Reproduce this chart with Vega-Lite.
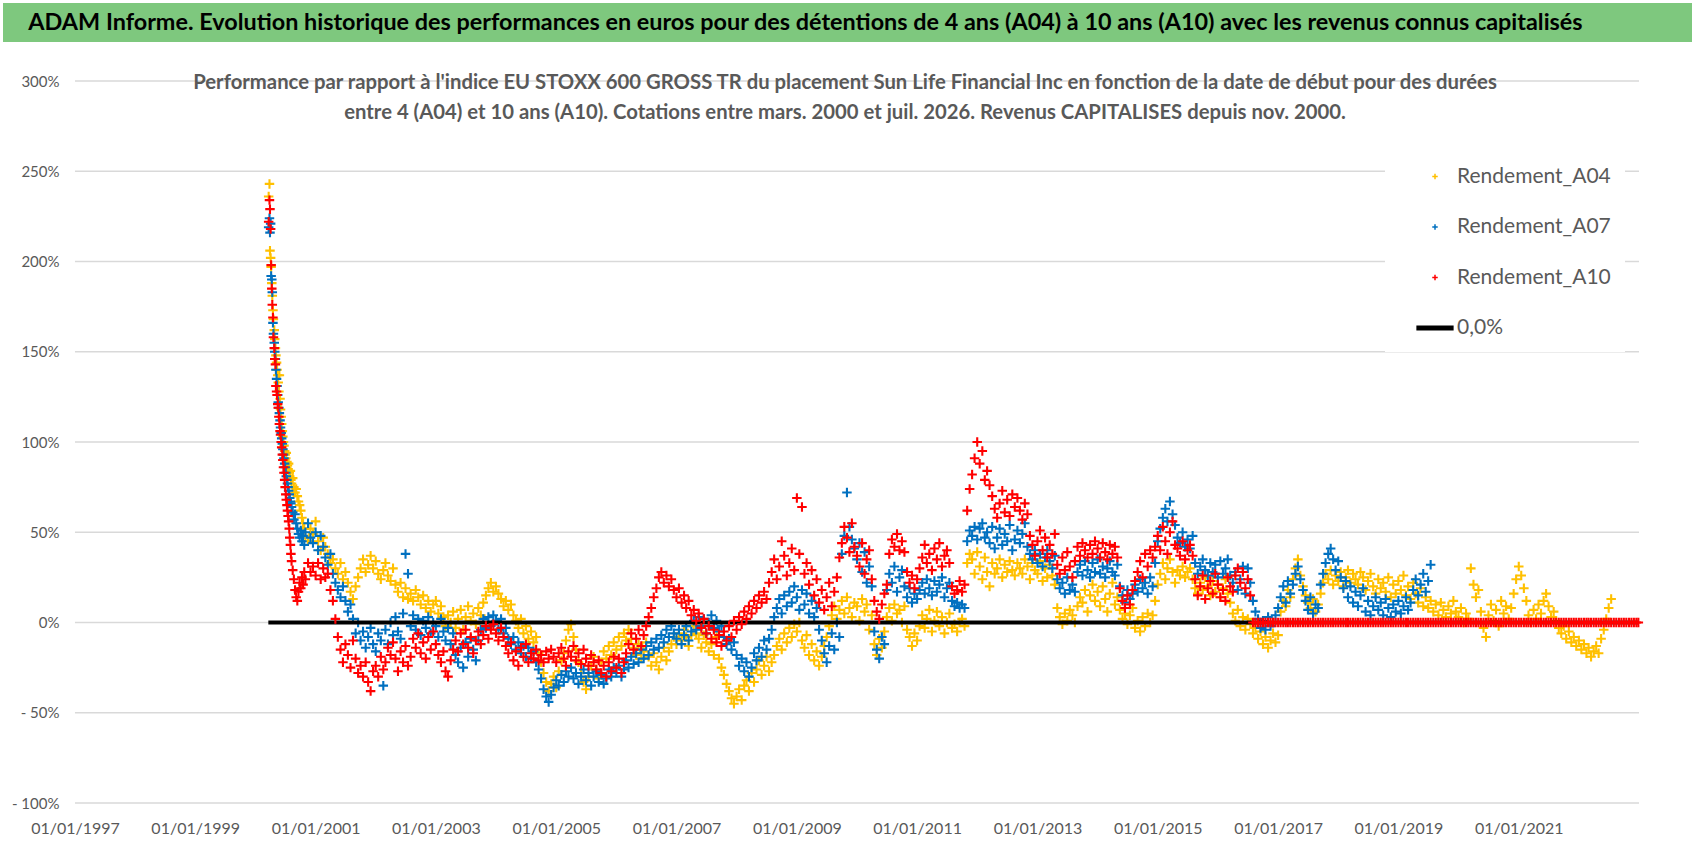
{
  "$schema": "https://vega.github.io/schema/vega-lite/v6.json",
  "background": "white",
  "padding": {"left": 3, "top": 3, "right": 6, "bottom": 0},
  "spacing": 30,
  "config": {
    "font": "Lato",
    "view": {"stroke": null}
  },
  "datasets": {
    "perf": [
      {"t":"2000-03-22","A04":236,"A07":219,"A10":222},
      {"t":"2000-03-27","A04":243,"A07":224,"A10":234},
      {"t":"2000-03-30","A04":206,"A07":216,"A10":229},
      {"t":"2000-04-03","A04":202,"A07":221,"A10":218},
      {"t":"2000-04-06","A04":197,"A07":192,"A10":198},
      {"t":"2000-04-10","A04":188,"A07":190,"A10":185},
      {"t":"2000-04-13","A04":181,"A07":183,"A10":176},
      {"t":"2000-04-17","A04":173,"A07":166,"A10":169},
      {"t":"2000-04-20","A04":168,"A07":160,"A10":158},
      {"t":"2000-04-25","A04":162,"A07":155,"A10":152},
      {"t":"2000-04-28","A04":157,"A07":150,"A10":146},
      {"t":"2000-05-02","A04":152,"A07":146,"A10":143},
      {"t":"2000-05-05","A04":148,"A07":140,"A10":131},
      {"t":"2000-05-09","A04":144,"A07":135,"A10":128},
      {"t":"2000-05-12","A04":140,"A07":131,"A10":126},
      {"t":"2000-05-16","A04":137,"A07":126,"A10":121},
      {"t":"2000-05-19","A04":133,"A07":122,"A10":119},
      {"t":"2000-05-23","A04":128,"A07":119,"A10":114},
      {"t":"2000-05-26","A04":137,"A07":116,"A10":110},
      {"t":"2000-05-30","A04":124,"A07":112,"A10":106},
      {"t":"2000-06-02","A04":118,"A07":108,"A10":104},
      {"t":"2000-06-06","A04":114,"A07":105,"A10":100},
      {"t":"2000-06-09","A04":110,"A07":102,"A10":97},
      {"t":"2000-06-13","A04":106,"A07":99,"A10":93},
      {"t":"2000-06-16","A04":103,"A07":96,"A10":90},
      {"t":"2000-06-20","A04":100,"A07":93,"A10":86},
      {"t":"2000-06-23","A04":98,"A07":91,"A10":83},
      {"t":"2000-06-27","A04":95,"A07":88,"A10":79},
      {"t":"2000-06-30","A04":93,"A07":86,"A10":75},
      {"t":"2000-07-04","A04":91,"A07":83,"A10":71},
      {"t":"2000-07-07","A04":94,"A07":81,"A10":68},
      {"t":"2000-07-11","A04":89,"A07":79,"A10":65},
      {"t":"2000-07-14","A04":87,"A07":77,"A10":62},
      {"t":"2000-07-18","A04":85,"A07":75,"A10":59},
      {"t":"2000-07-21","A04":88,"A07":73,"A10":56},
      {"t":"2000-07-25","A04":83,"A07":71,"A10":52},
      {"t":"2000-07-28","A04":81,"A07":69,"A10":47},
      {"t":"2000-08-01","A04":84,"A07":67,"A10":43},
      {"t":"2000-08-04","A04":79,"A07":66,"A10":38},
      {"t":"2000-08-08","A04":77,"A07":64,"A10":34},
      {"t":"2000-08-15","A04":80,"A07":61,"A10":29},
      {"t":"2000-08-22","A04":75,"A07":57,"A10":24},
      {"t":"2000-08-29","A04":72,"A07":60,"A10":18},
      {"t":"2000-09-05","A04":74,"A07":55,"A10":14},
      {"t":"2000-09-12","A04":70,"A07":52,"A10":12},
      {"t":"2000-09-19","A04":67,"A07":49,"A10":17},
      {"t":"2000-09-26","A04":65,"A07":47,"A10":22},
      {"t":"2000-10-03","A04":62,"A07":51,"A10":19},
      {"t":"2000-10-10","A04":58,"A07":45,"A10":25},
      {"t":"2000-10-17","A04":55,"A07":48,"A10":21},
      {"t":"2000-10-24","A04":52,"A07":43,"A10":28},
      {"t":"2000-10-31","A04":48,"A07":50,"A10":24},
      {"t":"2000-11-16","A04":45,"A07":55,"A10":33},
      {"t":"2000-12-01","A04":52,"A07":47,"A10":28},
      {"t":"2000-12-16","A04":49,"A07":44,"A10":31},
      {"t":"2001-01-01","A04":56,"A07":50,"A10":26},
      {"t":"2001-01-16","A04":45,"A07":40,"A10":33},
      {"t":"2001-02-01","A04":40,"A07":48,"A10":24},
      {"t":"2001-02-16","A04":47,"A07":42,"A10":30},
      {"t":"2001-03-01","A04":42,"A07":36,"A10":25},
      {"t":"2001-03-16","A04":38,"A07":32,"A10":27},
      {"t":"2001-04-01","A04":33,"A07":38,"A10":18},
      {"t":"2001-04-16","A04":35,"A07":27,"A10":12},
      {"t":"2001-05-01","A04":30,"A07":22,"A10":2},
      {"t":"2001-05-16","A04":27,"A07":18,"A10":-8},
      {"t":"2001-06-01","A04":33,"A07":14,"A10":-15},
      {"t":"2001-06-16","A04":24,"A07":20,"A10":-22},
      {"t":"2001-07-01","A04":28,"A07":12,"A10":-12},
      {"t":"2001-07-16","A04":22,"A07":6,"A10":-18},
      {"t":"2001-08-01","A04":17,"A07":10,"A10":-25},
      {"t":"2001-08-16","A04":13,"A07":2,"A10":-10},
      {"t":"2001-09-01","A04":20,"A07":-6,"A10":-20},
      {"t":"2001-09-16","A04":25,"A07":0,"A10":-28},
      {"t":"2001-10-01","A04":30,"A07":-10,"A10":-24},
      {"t":"2001-10-16","A04":35,"A07":-5,"A10":-30},
      {"t":"2001-11-01","A04":28,"A07":-14,"A10":-22},
      {"t":"2001-11-16","A04":32,"A07":-8,"A10":-33},
      {"t":"2001-12-01","A04":37,"A07":-3,"A10":-38},
      {"t":"2001-12-16","A04":30,"A07":-12,"A10":-27},
      {"t":"2002-01-01","A04":34,"A07":-16,"A10":-24},
      {"t":"2002-01-16","A04":27,"A07":-6,"A10":-30},
      {"t":"2002-02-01","A04":24,"A07":-10,"A10":-19},
      {"t":"2002-02-16","A04":29,"A07":-35,"A10":-26},
      {"t":"2002-03-01","A04":33,"A07":-4,"A10":-22},
      {"t":"2002-03-16","A04":26,"A07":-12,"A10":-14},
      {"t":"2002-04-01","A04":23,"A07":0,"A10":-18},
      {"t":"2002-04-16","A04":30,"A07":-7,"A10":-11},
      {"t":"2002-05-01","A04":21,"A07":3,"A10":-20},
      {"t":"2002-05-16","A04":17,"A07":-5,"A10":-27},
      {"t":"2002-06-01","A04":22,"A07":-9,"A10":-16},
      {"t":"2002-06-16","A04":14,"A07":5,"A10":-22},
      {"t":"2002-07-01","A04":19,"A07":38,"A10":-13},
      {"t":"2002-07-16","A04":13,"A07":27,"A10":-24},
      {"t":"2002-08-01","A04":16,"A07":-2,"A10":-19},
      {"t":"2002-08-16","A04":12,"A07":4,"A10":-9},
      {"t":"2002-09-01","A04":18,"A07":-4,"A10":-14},
      {"t":"2002-09-16","A04":14,"A07":2,"A10":-6},
      {"t":"2002-10-01","A04":10,"A07":-7,"A10":-17},
      {"t":"2002-10-16","A04":15,"A07":1,"A10":-11},
      {"t":"2002-11-01","A04":8,"A07":-3,"A10":-20},
      {"t":"2002-11-16","A04":12,"A07":3,"A10":-8},
      {"t":"2002-12-01","A04":6,"A07":-6,"A10":-15},
      {"t":"2002-12-16","A04":10,"A07":0,"A10":-5},
      {"t":"2003-01-01","A04":12,"A07":-2,"A10":-12},
      {"t":"2003-01-16","A04":5,"A07":-8,"A10":-18},
      {"t":"2003-02-01","A04":9,"A07":2,"A10":-22},
      {"t":"2003-02-16","A04":3,"A07":-5,"A10":-16},
      {"t":"2003-03-01","A04":-2,"A07":-10,"A10":-27},
      {"t":"2003-03-16","A04":4,"A07":-3,"A10":-30},
      {"t":"2003-04-01","A04":0,"A07":-12,"A10":-21},
      {"t":"2003-04-16","A04":6,"A07":-6,"A10":-15},
      {"t":"2003-05-01","A04":-3,"A07":-18,"A10":-10},
      {"t":"2003-05-16","A04":2,"A07":-22,"A10":-16},
      {"t":"2003-06-01","A04":7,"A07":-14,"A10":-6},
      {"t":"2003-06-16","A04":-4,"A07":-25,"A10":-12},
      {"t":"2003-07-01","A04":3,"A07":-11,"A10":-4},
      {"t":"2003-07-16","A04":9,"A07":-19,"A10":-14},
      {"t":"2003-08-01","A04":1,"A07":-9,"A10":-8},
      {"t":"2003-08-16","A04":5,"A07":-15,"A10":-17},
      {"t":"2003-09-01","A04":-1,"A07":-21,"A10":-10},
      {"t":"2003-09-16","A04":8,"A07":-10,"A10":-5},
      {"t":"2003-10-01","A04":4,"A07":-4,"A10":-12},
      {"t":"2003-10-16","A04":11,"A07":2,"A10":-7},
      {"t":"2003-11-01","A04":15,"A07":-3,"A10":-2},
      {"t":"2003-11-16","A04":19,"A07":3,"A10":-9},
      {"t":"2003-12-01","A04":22,"A07":-2,"A10":-4},
      {"t":"2003-12-16","A04":17,"A07":4,"A10":-1},
      {"t":"2004-01-01","A04":20,"A07":1,"A10":-6},
      {"t":"2004-01-16","A04":16,"A07":-4,"A10":-10},
      {"t":"2004-02-01","A04":13,"A07":2,"A10":-3},
      {"t":"2004-02-16","A04":9,"A07":-6,"A10":-8},
      {"t":"2004-03-01","A04":12,"A07":-3,"A10":-13},
      {"t":"2004-03-16","A04":7,"A07":-9,"A10":-17},
      {"t":"2004-04-01","A04":10,"A07":-12,"A10":-11},
      {"t":"2004-04-16","A04":4,"A07":-8,"A10":-21},
      {"t":"2004-05-01","A04":1,"A07":-15,"A10":-16},
      {"t":"2004-05-16","A04":-3,"A07":-11,"A10":-24},
      {"t":"2004-06-01","A04":2,"A07":-17,"A10":-14},
      {"t":"2004-06-16","A04":-6,"A07":-13,"A10":-19},
      {"t":"2004-07-01","A04":-2,"A07":-19,"A10":-12},
      {"t":"2004-07-16","A04":-9,"A07":-14,"A10":-22},
      {"t":"2004-08-01","A04":-5,"A07":-20,"A10":-17},
      {"t":"2004-08-16","A04":-11,"A07":-16,"A10":-20},
      {"t":"2004-09-01","A04":-8,"A07":-22,"A10":-15},
      {"t":"2004-09-16","A04":-17,"A07":-26,"A10":-21},
      {"t":"2004-10-01","A04":-22,"A07":-31,"A10":-18},
      {"t":"2004-10-16","A04":-28,"A07":-37,"A10":-22},
      {"t":"2004-11-01","A04":-33,"A07":-41,"A10":-16},
      {"t":"2004-11-16","A04":-38,"A07":-44,"A10":-20},
      {"t":"2004-12-01","A04":-34,"A07":-40,"A10":-15},
      {"t":"2004-12-16","A04":-30,"A07":-36,"A10":-19},
      {"t":"2005-01-01","A04":-36,"A07":-32,"A10":-22},
      {"t":"2005-01-16","A04":-27,"A07":-35,"A10":-17},
      {"t":"2005-02-01","A04":-21,"A07":-29,"A10":-14},
      {"t":"2005-02-16","A04":-17,"A07":-33,"A10":-20},
      {"t":"2005-03-01","A04":-10,"A07":-27,"A10":-24},
      {"t":"2005-03-16","A04":-4,"A07":-30,"A10":-16},
      {"t":"2005-04-01","A04":-1,"A07":-25,"A10":-19},
      {"t":"2005-04-16","A04":-8,"A07":-31,"A10":-13},
      {"t":"2005-05-01","A04":-15,"A07":-28,"A10":-21},
      {"t":"2005-05-16","A04":-22,"A07":-34,"A10":-17},
      {"t":"2005-06-01","A04":-28,"A07":-30,"A10":-23},
      {"t":"2005-06-16","A04":-33,"A07":-26,"A10":-15},
      {"t":"2005-07-01","A04":-37,"A07":-32,"A10":-20},
      {"t":"2005-07-16","A04":-30,"A07":-28,"A10":-24},
      {"t":"2005-08-01","A04":-24,"A07":-35,"A10":-18},
      {"t":"2005-08-16","A04":-19,"A07":-30,"A10":-22},
      {"t":"2005-09-01","A04":-26,"A07":-27,"A10":-26},
      {"t":"2005-09-16","A04":-31,"A07":-33,"A10":-21},
      {"t":"2005-10-01","A04":-22,"A07":-29,"A10":-28},
      {"t":"2005-10-16","A04":-16,"A07":-34,"A10":-24},
      {"t":"2005-11-01","A04":-20,"A07":-31,"A10":-30},
      {"t":"2005-11-16","A04":-13,"A07":-26,"A10":-22},
      {"t":"2005-12-01","A04":-18,"A07":-30,"A10":-27},
      {"t":"2005-12-16","A04":-11,"A07":-25,"A10":-19},
      {"t":"2006-01-01","A04":-15,"A07":-28,"A10":-25},
      {"t":"2006-01-16","A04":-8,"A07":-24,"A10":-20},
      {"t":"2006-02-01","A04":-13,"A07":-30,"A10":-28},
      {"t":"2006-02-16","A04":-6,"A07":-26,"A10":-22},
      {"t":"2006-03-01","A04":-10,"A07":-21,"A10":-17},
      {"t":"2006-03-16","A04":-4,"A07":-25,"A10":-12},
      {"t":"2006-04-01","A04":-9,"A07":-19,"A10":-6},
      {"t":"2006-04-16","A04":-14,"A07":-23,"A10":-15},
      {"t":"2006-05-01","A04":-18,"A07":-17,"A10":-9},
      {"t":"2006-05-16","A04":-12,"A07":-22,"A10":-4},
      {"t":"2006-06-01","A04":-20,"A07":-15,"A10":-13},
      {"t":"2006-06-16","A04":-16,"A07":-20,"A10":-7},
      {"t":"2006-07-01","A04":-11,"A07":-13,"A10":-2},
      {"t":"2006-07-16","A04":-19,"A07":-18,"A10":3},
      {"t":"2006-08-01","A04":-24,"A07":-11,"A10":8},
      {"t":"2006-08-16","A04":-17,"A07":-15,"A10":14},
      {"t":"2006-09-01","A04":-22,"A07":-9,"A10":19},
      {"t":"2006-09-16","A04":-26,"A07":-14,"A10":25},
      {"t":"2006-10-01","A04":-19,"A07":-7,"A10":28},
      {"t":"2006-10-16","A04":-14,"A07":-11,"A10":22},
      {"t":"2006-11-01","A04":-21,"A07":-4,"A10":26},
      {"t":"2006-11-16","A04":-16,"A07":-8,"A10":20},
      {"t":"2006-12-01","A04":-12,"A07":-2,"A10":24},
      {"t":"2006-12-16","A04":-8,"A07":-6,"A10":18},
      {"t":"2007-01-01","A04":-12,"A07":-9,"A10":14},
      {"t":"2007-01-16","A04":-6,"A07":-4,"A10":19},
      {"t":"2007-02-01","A04":-10,"A07":-12,"A10":11},
      {"t":"2007-02-16","A04":-4,"A07":-7,"A10":15},
      {"t":"2007-03-01","A04":-8,"A07":-2,"A10":8},
      {"t":"2007-03-16","A04":-13,"A07":-10,"A10":12},
      {"t":"2007-04-01","A04":-7,"A07":-5,"A10":4},
      {"t":"2007-04-16","A04":-2,"A07":1,"A10":7},
      {"t":"2007-05-01","A04":-6,"A07":-4,"A10":1},
      {"t":"2007-05-16","A04":-9,"A07":3,"A10":5},
      {"t":"2007-06-01","A04":-14,"A07":-2,"A10":-3},
      {"t":"2007-06-16","A04":-7,"A07":2,"A10":2},
      {"t":"2007-07-01","A04":-11,"A07":-6,"A10":-6},
      {"t":"2007-07-16","A04":-16,"A07":0,"A10":-2},
      {"t":"2007-08-01","A04":-12,"A07":4,"A10":-9},
      {"t":"2007-08-16","A04":-18,"A07":-3,"A10":-4},
      {"t":"2007-09-01","A04":-8,"A07":1,"A10":-11},
      {"t":"2007-09-16","A04":-20,"A07":-5,"A10":-7},
      {"t":"2007-10-01","A04":-25,"A07":-2,"A10":-13},
      {"t":"2007-10-16","A04":-29,"A07":-8,"A10":-5},
      {"t":"2007-11-01","A04":-34,"A07":-12,"A10":-10},
      {"t":"2007-11-16","A04":-38,"A07":-9,"A10":-2},
      {"t":"2007-12-01","A04":-42,"A07":-15,"A10":-8},
      {"t":"2007-12-16","A04":-45,"A07":-11,"A10":1},
      {"t":"2008-01-01","A04":-41,"A07":-18,"A10":-4},
      {"t":"2008-01-16","A04":-37,"A07":-24,"A10":3},
      {"t":"2008-02-01","A04":-43,"A07":-20,"A10":-1},
      {"t":"2008-02-16","A04":-35,"A07":-27,"A10":6},
      {"t":"2008-03-01","A04":-32,"A07":-22,"A10":2},
      {"t":"2008-03-16","A04":-38,"A07":-30,"A10":9},
      {"t":"2008-04-01","A04":-28,"A07":-25,"A10":5},
      {"t":"2008-04-16","A04":-33,"A07":-17,"A10":12},
      {"t":"2008-05-01","A04":-26,"A07":-21,"A10":8},
      {"t":"2008-05-16","A04":-21,"A07":-14,"A10":15},
      {"t":"2008-06-01","A04":-29,"A07":-19,"A10":11},
      {"t":"2008-06-16","A04":-24,"A07":-10,"A10":17},
      {"t":"2008-07-01","A04":-19,"A07":-15,"A10":13},
      {"t":"2008-07-16","A04":-27,"A07":-9,"A10":22},
      {"t":"2008-08-01","A04":-22,"A07":-4,"A10":28},
      {"t":"2008-08-16","A04":-18,"A07":3,"A10":35},
      {"t":"2008-09-01","A04":-13,"A07":8,"A10":24},
      {"t":"2008-09-16","A04":-9,"A07":13,"A10":31},
      {"t":"2008-10-01","A04":-15,"A07":5,"A10":45},
      {"t":"2008-10-16","A04":-6,"A07":15,"A10":37},
      {"t":"2008-11-01","A04":-11,"A07":9,"A10":26},
      {"t":"2008-11-16","A04":-3,"A07":17,"A10":33},
      {"t":"2008-12-01","A04":-8,"A07":11,"A10":41},
      {"t":"2008-12-16","A04":-1,"A07":20,"A10":29},
      {"t":"2009-01-01","A04":-5,"A07":14,"A10":69},
      {"t":"2009-01-16","A04":0,"A07":7,"A10":38},
      {"t":"2009-02-01","A04":-10,"A07":18,"A10":64},
      {"t":"2009-02-16","A04":-14,"A07":10,"A10":27},
      {"t":"2009-03-01","A04":-7,"A07":16,"A10":33},
      {"t":"2009-03-16","A04":-18,"A07":5,"A10":21},
      {"t":"2009-04-01","A04":-12,"A07":12,"A10":29},
      {"t":"2009-04-16","A04":-21,"A07":3,"A10":15},
      {"t":"2009-05-01","A04":-16,"A07":8,"A10":24},
      {"t":"2009-05-16","A04":-24,"A07":-4,"A10":11},
      {"t":"2009-06-01","A04":-19,"A07":-10,"A10":18},
      {"t":"2009-06-16","A04":-13,"A07":-17,"A10":7},
      {"t":"2009-07-01","A04":-8,"A07":-22,"A10":14},
      {"t":"2009-07-16","A04":-2,"A07":-13,"A10":22},
      {"t":"2009-08-01","A04":4,"A07":-6,"A10":9},
      {"t":"2009-08-16","A04":9,"A07":-15,"A10":17},
      {"t":"2009-09-01","A04":2,"A07":0,"A10":25},
      {"t":"2009-09-16","A04":7,"A07":-8,"A10":36},
      {"t":"2009-10-01","A04":12,"A07":38,"A10":44},
      {"t":"2009-10-16","A04":5,"A07":48,"A10":53},
      {"t":"2009-11-01","A04":14,"A07":72,"A10":47},
      {"t":"2009-11-16","A04":8,"A07":53,"A10":39},
      {"t":"2009-12-01","A04":3,"A07":46,"A10":55},
      {"t":"2009-12-16","A04":11,"A07":41,"A10":42},
      {"t":"2010-01-01","A04":9,"A07":35,"A10":37},
      {"t":"2010-01-16","A04":1,"A07":44,"A10":31},
      {"t":"2010-02-01","A04":13,"A07":28,"A10":44},
      {"t":"2010-02-16","A04":6,"A07":39,"A10":27},
      {"t":"2010-03-01","A04":10,"A07":22,"A10":35},
      {"t":"2010-03-16","A04":-4,"A07":31,"A10":40},
      {"t":"2010-04-01","A04":4,"A07":20,"A10":24},
      {"t":"2010-04-16","A04":-12,"A07":-5,"A10":12},
      {"t":"2010-05-01","A04":-18,"A07":-15,"A10":6},
      {"t":"2010-05-16","A04":-9,"A07":-20,"A10":2},
      {"t":"2010-06-01","A04":-14,"A07":-8,"A10":10},
      {"t":"2010-06-16","A04":-5,"A07":-12,"A10":16},
      {"t":"2010-07-01","A04":3,"A07":18,"A10":21},
      {"t":"2010-07-16","A04":8,"A07":27,"A10":38},
      {"t":"2010-08-01","A04":1,"A07":22,"A10":46},
      {"t":"2010-08-16","A04":10,"A07":31,"A10":42},
      {"t":"2010-09-01","A04":5,"A07":17,"A10":49},
      {"t":"2010-09-16","A04":7,"A07":25,"A10":40},
      {"t":"2010-10-01","A04":0,"A07":29,"A10":45},
      {"t":"2010-10-16","A04":9,"A07":20,"A10":39},
      {"t":"2010-11-01","A04":-4,"A07":14,"A10":28},
      {"t":"2010-11-16","A04":-8,"A07":19,"A10":22},
      {"t":"2010-12-01","A04":-13,"A07":11,"A10":26},
      {"t":"2010-12-16","A04":-6,"A07":16,"A10":19},
      {"t":"2011-01-01","A04":-10,"A07":13,"A10":24},
      {"t":"2011-01-16","A04":-2,"A07":18,"A10":30},
      {"t":"2011-02-01","A04":4,"A07":22,"A10":36},
      {"t":"2011-02-16","A04":-3,"A07":16,"A10":43},
      {"t":"2011-03-01","A04":2,"A07":24,"A10":33},
      {"t":"2011-03-16","A04":7,"A07":19,"A10":38},
      {"t":"2011-04-01","A04":-5,"A07":15,"A10":29},
      {"t":"2011-04-16","A04":1,"A07":23,"A10":41},
      {"t":"2011-05-01","A04":6,"A07":17,"A10":35},
      {"t":"2011-05-16","A04":-2,"A07":21,"A10":44},
      {"t":"2011-06-01","A04":3,"A07":25,"A10":31},
      {"t":"2011-06-16","A04":-6,"A07":14,"A10":37},
      {"t":"2011-07-01","A04":0,"A07":19,"A10":40},
      {"t":"2011-07-16","A04":5,"A07":22,"A10":33},
      {"t":"2011-08-01","A04":-3,"A07":12,"A10":20},
      {"t":"2011-08-16","A04":-1,"A07":9,"A10":16},
      {"t":"2011-09-01","A04":-5,"A07":11,"A10":18},
      {"t":"2011-09-16","A04":0,"A07":8,"A10":23},
      {"t":"2011-10-01","A04":2,"A07":10,"A10":17},
      {"t":"2011-10-16","A04":-2,"A07":8,"A10":21},
      {"t":"2011-11-01","A04":33,"A07":45,"A10":62},
      {"t":"2011-11-16","A04":38,"A07":51,"A10":74},
      {"t":"2011-12-01","A04":35,"A07":48,"A10":82},
      {"t":"2011-12-16","A04":27,"A07":53,"A10":91},
      {"t":"2012-01-01","A04":39,"A07":46,"A10":100},
      {"t":"2012-01-16","A04":31,"A07":52,"A10":88},
      {"t":"2012-02-01","A04":24,"A07":55,"A10":95},
      {"t":"2012-02-16","A04":36,"A07":47,"A10":79},
      {"t":"2012-03-01","A04":28,"A07":50,"A10":84},
      {"t":"2012-03-16","A04":20,"A07":44,"A10":76},
      {"t":"2012-04-01","A04":33,"A07":53,"A10":70},
      {"t":"2012-04-16","A04":27,"A07":41,"A10":63},
      {"t":"2012-05-01","A04":30,"A07":47,"A10":58},
      {"t":"2012-05-16","A04":35,"A07":52,"A10":66},
      {"t":"2012-06-01","A04":25,"A07":43,"A10":73},
      {"t":"2012-06-16","A04":32,"A07":49,"A10":61},
      {"t":"2012-07-01","A04":28,"A07":45,"A10":68},
      {"t":"2012-07-16","A04":34,"A07":54,"A10":59},
      {"t":"2012-08-01","A04":29,"A07":40,"A10":71},
      {"t":"2012-08-16","A04":26,"A07":46,"A10":64},
      {"t":"2012-09-01","A04":33,"A07":51,"A10":69},
      {"t":"2012-09-16","A04":30,"A07":44,"A10":62},
      {"t":"2012-10-01","A04":27,"A07":49,"A10":57},
      {"t":"2012-10-16","A04":35,"A07":55,"A10":66},
      {"t":"2012-11-01","A04":31,"A07":42,"A10":60},
      {"t":"2012-11-16","A04":24,"A07":38,"A10":48},
      {"t":"2012-12-01","A04":33,"A07":35,"A10":43},
      {"t":"2012-12-16","A04":29,"A07":40,"A10":37},
      {"t":"2013-01-01","A04":27,"A07":33,"A10":45},
      {"t":"2013-01-16","A04":34,"A07":38,"A10":51},
      {"t":"2013-02-01","A04":23,"A07":31,"A10":40},
      {"t":"2013-02-16","A04":30,"A07":36,"A10":47},
      {"t":"2013-03-01","A04":25,"A07":40,"A10":36},
      {"t":"2013-03-16","A04":32,"A07":34,"A10":43},
      {"t":"2013-04-01","A04":26,"A07":30,"A10":38},
      {"t":"2013-04-16","A04":21,"A07":37,"A10":49},
      {"t":"2013-05-01","A04":8,"A07":24,"A10":32},
      {"t":"2013-05-16","A04":3,"A07":19,"A10":27},
      {"t":"2013-06-01","A04":-1,"A07":22,"A10":36},
      {"t":"2013-06-16","A04":5,"A07":16,"A10":29},
      {"t":"2013-07-01","A04":1,"A07":25,"A10":39},
      {"t":"2013-07-16","A04":7,"A07":18,"A10":31},
      {"t":"2013-08-01","A04":4,"A07":21,"A10":25},
      {"t":"2013-08-16","A04":0,"A07":17,"A10":34},
      {"t":"2013-09-01","A04":9,"A07":28,"A10":42},
      {"t":"2013-09-16","A04":14,"A07":32,"A10":37},
      {"t":"2013-10-01","A04":11,"A07":26,"A10":44},
      {"t":"2013-10-16","A04":18,"A07":34,"A10":40},
      {"t":"2013-11-01","A04":6,"A07":29,"A10":36},
      {"t":"2013-11-16","A04":15,"A07":25,"A10":43},
      {"t":"2013-12-01","A04":21,"A07":33,"A10":38},
      {"t":"2013-12-16","A04":12,"A07":28,"A10":45},
      {"t":"2014-01-01","A04":17,"A07":35,"A10":41},
      {"t":"2014-01-16","A04":9,"A07":27,"A10":36},
      {"t":"2014-02-01","A04":20,"A07":31,"A10":44},
      {"t":"2014-02-16","A04":13,"A07":25,"A10":39},
      {"t":"2014-03-01","A04":6,"A07":30,"A10":35},
      {"t":"2014-03-16","A04":16,"A07":34,"A10":43},
      {"t":"2014-04-01","A04":22,"A07":28,"A10":38},
      {"t":"2014-04-16","A04":10,"A07":26,"A10":42},
      {"t":"2014-05-01","A04":14,"A07":32,"A10":36},
      {"t":"2014-05-16","A04":7,"A07":20,"A10":19},
      {"t":"2014-06-01","A04":2,"A07":15,"A10":12},
      {"t":"2014-06-16","A04":5,"A07":11,"A10":8},
      {"t":"2014-07-01","A04":-1,"A07":18,"A10":15},
      {"t":"2014-07-16","A04":4,"A07":13,"A10":10},
      {"t":"2014-08-01","A04":8,"A07":16,"A10":18},
      {"t":"2014-08-16","A04":-3,"A07":21,"A10":23},
      {"t":"2014-09-01","A04":1,"A07":17,"A10":28},
      {"t":"2014-09-16","A04":-5,"A07":24,"A10":34},
      {"t":"2014-10-01","A04":3,"A07":19,"A10":25},
      {"t":"2014-10-16","A04":-2,"A07":22,"A10":38},
      {"t":"2014-11-01","A04":5,"A07":16,"A10":31},
      {"t":"2014-11-16","A04":0,"A07":25,"A10":40},
      {"t":"2014-12-01","A04":4,"A07":20,"A10":36},
      {"t":"2014-12-16","A04":12,"A07":33,"A10":42},
      {"t":"2015-01-01","A04":21,"A07":45,"A10":48},
      {"t":"2015-01-16","A04":27,"A07":52,"A10":40},
      {"t":"2015-02-01","A04":33,"A07":58,"A10":53},
      {"t":"2015-02-16","A04":24,"A07":63,"A10":45},
      {"t":"2015-03-01","A04":30,"A07":56,"A10":38},
      {"t":"2015-03-16","A04":35,"A07":67,"A10":50},
      {"t":"2015-04-01","A04":28,"A07":60,"A10":56},
      {"t":"2015-04-16","A04":22,"A07":54,"A10":43},
      {"t":"2015-05-01","A04":29,"A07":47,"A10":41},
      {"t":"2015-05-16","A04":26,"A07":44,"A10":37},
      {"t":"2015-06-01","A04":31,"A07":50,"A10":45},
      {"t":"2015-06-16","A04":25,"A07":42,"A10":35},
      {"t":"2015-07-01","A04":28,"A07":46,"A10":40},
      {"t":"2015-07-16","A04":30,"A07":41,"A10":43},
      {"t":"2015-08-01","A04":24,"A07":48,"A10":37},
      {"t":"2015-08-16","A04":19,"A07":33,"A10":24},
      {"t":"2015-09-01","A04":16,"A07":27,"A10":15},
      {"t":"2015-09-16","A04":22,"A07":31,"A10":20},
      {"t":"2015-10-01","A04":18,"A07":35,"A10":26},
      {"t":"2015-10-16","A04":25,"A07":29,"A10":13},
      {"t":"2015-11-01","A04":20,"A07":26,"A10":19},
      {"t":"2015-11-16","A04":15,"A07":33,"A10":23},
      {"t":"2015-12-01","A04":23,"A07":28,"A10":16},
      {"t":"2015-12-16","A04":17,"A07":32,"A10":27},
      {"t":"2016-01-01","A04":21,"A07":25,"A10":21},
      {"t":"2016-01-16","A04":14,"A07":34,"A10":14},
      {"t":"2016-02-01","A04":19,"A07":27,"A10":18},
      {"t":"2016-02-16","A04":24,"A07":30,"A10":12},
      {"t":"2016-03-01","A04":16,"A07":35,"A10":25},
      {"t":"2016-03-16","A04":11,"A07":26,"A10":20},
      {"t":"2016-04-01","A04":5,"A07":22,"A10":17},
      {"t":"2016-04-16","A04":1,"A07":28,"A10":26},
      {"t":"2016-05-01","A04":7,"A07":18,"A10":30},
      {"t":"2016-05-16","A04":-2,"A07":24,"A10":22},
      {"t":"2016-06-01","A04":3,"A07":31,"A10":28},
      {"t":"2016-06-16","A04":-4,"A07":16,"A10":19},
      {"t":"2016-07-01","A04":2,"A07":30,"A10":24},
      {"t":"2016-07-16","A04":-1,"A07":22,"A10":15},
      {"t":"2016-08-01","A04":-6,"A07":12,"A10":0},
      {"t":"2016-08-16","A04":-3,"A07":6,"A10":0},
      {"t":"2016-09-01","A04":-9,"A07":2,"A10":0},
      {"t":"2016-09-16","A04":-5,"A07":-3,"A10":0},
      {"t":"2016-10-01","A04":-12,"A07":1,"A10":0},
      {"t":"2016-10-16","A04":-8,"A07":-4,"A10":0},
      {"t":"2016-11-01","A04":-14,"A07":3,"A10":0},
      {"t":"2016-11-16","A04":-10,"A07":-2,"A10":0},
      {"t":"2016-12-01","A04":-6,"A07":0,"A10":0},
      {"t":"2016-12-16","A04":-11,"A07":4,"A10":0},
      {"t":"2017-01-01","A04":-7,"A07":8,"A10":0},
      {"t":"2017-01-16","A04":6,"A07":14,"A10":0},
      {"t":"2017-02-01","A04":12,"A07":20,"A10":0},
      {"t":"2017-02-16","A04":9,"A07":11,"A10":0},
      {"t":"2017-03-01","A04":18,"A07":23,"A10":0},
      {"t":"2017-03-16","A04":14,"A07":16,"A10":0},
      {"t":"2017-04-01","A04":24,"A07":21,"A10":0},
      {"t":"2017-04-16","A04":30,"A07":27,"A10":0},
      {"t":"2017-05-01","A04":35,"A07":31,"A10":0},
      {"t":"2017-05-16","A04":26,"A07":24,"A10":0},
      {"t":"2017-06-01","A04":20,"A07":18,"A10":0},
      {"t":"2017-06-16","A04":15,"A07":12,"A10":0},
      {"t":"2017-07-01","A04":11,"A07":7,"A10":0},
      {"t":"2017-07-16","A04":8,"A07":14,"A10":0},
      {"t":"2017-08-01","A04":13,"A07":5,"A10":0},
      {"t":"2017-08-16","A04":6,"A07":10,"A10":0},
      {"t":"2017-09-01","A04":10,"A07":8,"A10":0},
      {"t":"2017-09-16","A04":16,"A07":21,"A10":0},
      {"t":"2017-10-01","A04":22,"A07":27,"A10":0},
      {"t":"2017-10-16","A04":27,"A07":33,"A10":0},
      {"t":"2017-11-01","A04":24,"A07":38,"A10":0},
      {"t":"2017-11-16","A04":29,"A07":41,"A10":0},
      {"t":"2017-12-01","A04":21,"A07":35,"A10":0},
      {"t":"2017-12-16","A04":26,"A07":29,"A10":0},
      {"t":"2018-01-01","A04":23,"A07":34,"A10":0},
      {"t":"2018-01-16","A04":28,"A07":25,"A10":0},
      {"t":"2018-02-01","A04":20,"A07":19,"A10":0},
      {"t":"2018-02-16","A04":25,"A07":23,"A10":0},
      {"t":"2018-03-01","A04":29,"A07":14,"A10":0},
      {"t":"2018-03-16","A04":22,"A07":20,"A10":0},
      {"t":"2018-04-01","A04":27,"A07":11,"A10":0},
      {"t":"2018-04-16","A04":24,"A07":17,"A10":0},
      {"t":"2018-05-01","A04":21,"A07":9,"A10":0},
      {"t":"2018-05-16","A04":28,"A07":15,"A10":0},
      {"t":"2018-06-01","A04":25,"A07":19,"A10":0},
      {"t":"2018-06-16","A04":18,"A07":6,"A10":0},
      {"t":"2018-07-01","A04":23,"A07":12,"A10":0},
      {"t":"2018-07-16","A04":27,"A07":4,"A10":0},
      {"t":"2018-08-01","A04":20,"A07":9,"A10":0},
      {"t":"2018-08-16","A04":16,"A07":14,"A10":0},
      {"t":"2018-09-01","A04":24,"A07":7,"A10":0},
      {"t":"2018-09-16","A04":19,"A07":11,"A10":0},
      {"t":"2018-10-01","A04":22,"A07":4,"A10":0},
      {"t":"2018-10-16","A04":17,"A07":13,"A10":0},
      {"t":"2018-11-01","A04":25,"A07":8,"A10":0},
      {"t":"2018-11-16","A04":14,"A07":3,"A10":0},
      {"t":"2018-12-01","A04":21,"A07":10,"A10":0},
      {"t":"2018-12-16","A04":16,"A07":6,"A10":0},
      {"t":"2019-01-01","A04":23,"A07":12,"A10":0},
      {"t":"2019-01-16","A04":18,"A07":5,"A10":0},
      {"t":"2019-02-01","A04":26,"A07":9,"A10":0},
      {"t":"2019-02-16","A04":15,"A07":14,"A10":0},
      {"t":"2019-03-01","A04":20,"A07":7,"A10":0},
      {"t":"2019-03-16","A04":13,"A07":11,"A10":0},
      {"t":"2019-04-01","A04":22,"A07":18,"A10":0},
      {"t":"2019-04-16","A04":16,"A07":24,"A10":0},
      {"t":"2019-05-01","A04":11,"A07":15,"A10":0},
      {"t":"2019-05-16","A04":19,"A07":21,"A10":0},
      {"t":"2019-06-01","A04":9,"A07":27,"A10":0},
      {"t":"2019-06-16","A04":14,"A07":17,"A10":0},
      {"t":"2019-07-01","A04":8,"A07":23,"A10":0},
      {"t":"2019-07-16","A04":12,"A07":32,"A10":0},
      {"t":"2019-08-01","A04":6,"A10":0},
      {"t":"2019-08-16","A04":10,"A10":0},
      {"t":"2019-09-01","A04":4,"A10":0},
      {"t":"2019-09-16","A04":11,"A10":0},
      {"t":"2019-10-01","A04":7,"A10":0},
      {"t":"2019-10-16","A04":3,"A10":0},
      {"t":"2019-11-01","A04":9,"A10":0},
      {"t":"2019-11-16","A04":5,"A10":0},
      {"t":"2019-12-01","A04":12,"A10":0},
      {"t":"2019-12-16","A04":6,"A10":0},
      {"t":"2020-01-01","A04":3,"A10":0},
      {"t":"2020-01-16","A04":8,"A10":0},
      {"t":"2020-02-01","A04":0,"A10":0},
      {"t":"2020-02-16","A04":5,"A10":0},
      {"t":"2020-03-01","A04":2,"A10":0},
      {"t":"2020-03-16","A04":30,"A10":0},
      {"t":"2020-04-01","A04":21,"A10":0},
      {"t":"2020-04-16","A04":14,"A10":0},
      {"t":"2020-05-01","A04":18,"A10":0},
      {"t":"2020-05-16","A04":6,"A10":0},
      {"t":"2020-06-01","A04":-3,"A10":0},
      {"t":"2020-06-16","A04":-8,"A10":0},
      {"t":"2020-07-01","A04":4,"A10":0},
      {"t":"2020-07-16","A04":10,"A10":0},
      {"t":"2020-08-01","A04":1,"A10":0},
      {"t":"2020-08-16","A04":7,"A10":0},
      {"t":"2020-09-01","A04":-2,"A10":0},
      {"t":"2020-09-16","A04":12,"A10":0},
      {"t":"2020-10-01","A04":5,"A10":0},
      {"t":"2020-10-16","A04":9,"A10":0},
      {"t":"2020-11-01","A04":2,"A10":0},
      {"t":"2020-11-16","A04":8,"A10":0},
      {"t":"2020-12-01","A04":16,"A10":0},
      {"t":"2020-12-16","A04":24,"A10":0},
      {"t":"2021-01-01","A04":31,"A10":0},
      {"t":"2021-01-16","A04":26,"A10":0},
      {"t":"2021-02-01","A04":19,"A10":0},
      {"t":"2021-02-16","A04":12,"A10":0},
      {"t":"2021-03-01","A04":4,"A10":0},
      {"t":"2021-03-16","A04":0,"A10":0},
      {"t":"2021-04-01","A04":7,"A10":0},
      {"t":"2021-04-16","A04":2,"A10":0},
      {"t":"2021-05-01","A04":10,"A10":0},
      {"t":"2021-05-16","A04":5,"A10":0},
      {"t":"2021-06-01","A04":12,"A10":0},
      {"t":"2021-06-16","A04":16,"A10":0},
      {"t":"2021-07-01","A04":9,"A10":0},
      {"t":"2021-07-16","A04":3,"A10":0},
      {"t":"2021-08-01","A04":6,"A10":0},
      {"t":"2021-08-16","A04":1,"A10":0},
      {"t":"2021-09-01","A04":-3,"A10":0},
      {"t":"2021-09-16","A04":-6,"A10":0},
      {"t":"2021-10-01","A04":-2,"A10":0},
      {"t":"2021-10-16","A04":-9,"A10":0},
      {"t":"2021-11-01","A04":-5,"A10":0},
      {"t":"2021-11-16","A04":-11,"A10":0},
      {"t":"2021-12-01","A04":-8,"A10":0},
      {"t":"2021-12-16","A04":-13,"A10":0},
      {"t":"2022-01-01","A04":-10,"A10":0},
      {"t":"2022-01-16","A04":-15,"A10":0},
      {"t":"2022-02-01","A04":-12,"A10":0},
      {"t":"2022-02-16","A04":-17,"A10":0},
      {"t":"2022-03-01","A04":-14,"A10":0},
      {"t":"2022-03-16","A04":-19,"A10":0},
      {"t":"2022-04-01","A04":-16,"A10":0},
      {"t":"2022-04-16","A04":-13,"A10":0},
      {"t":"2022-05-01","A04":-17,"A10":0},
      {"t":"2022-05-16","A04":-9,"A10":0},
      {"t":"2022-06-01","A04":-4,"A10":0},
      {"t":"2022-06-16","A04":2,"A10":0},
      {"t":"2022-07-01","A04":8,"A10":0},
      {"t":"2022-07-16","A04":13,"A10":0},
      {"t":"2022-08-01","A10":0},
      {"t":"2022-08-16","A10":0},
      {"t":"2022-09-01","A10":0},
      {"t":"2022-09-16","A10":0},
      {"t":"2022-10-01","A10":0},
      {"t":"2022-10-16","A10":0},
      {"t":"2022-11-01","A10":0},
      {"t":"2022-11-16","A10":0},
      {"t":"2022-12-01","A10":0},
      {"t":"2022-12-16","A10":0},
      {"t":"2022-12-28","A10":0}
    ]
  },
  "vconcat": [
    {
      "width": 1689,
      "height": 39,
      "view": {"fill": "#7ec87e", "stroke": null},
      "data": {"values": [{"h": "ADAM Informe. Evolution historique des performances en euros pour des détentions de 4 ans (A04) à 10 ans (A10) avec les revenus connus capitalisés"}]},
      "mark": {"type": "text", "fontSize": 23.4, "fontWeight": "bold", "color": "#000000", "align": "center", "baseline": "middle", "dx": -42},
      "encoding": {"text": {"field": "h"}}
    },
    {
      "width": 1636,
      "height": 722,
      "title": {
        "text": [
          "Performance par rapport à l'indice EU STOXX 600 GROSS TR  du placement Sun Life Financial Inc en fonction de la date de début pour des durées",
          "entre 4 (A04) et 10 ans (A10). Cotations entre mars. 2000 et juil. 2026. Revenus CAPITALISES depuis nov. 2000."
        ],
        "anchor": "middle",
        "frame": "group",
        "offset": -49,
        "dx": 24,
        "fontSize": 20.3,
        "fontWeight": "bold",
        "color": "#595959",
        "lineHeight": 30
      },
      "layer": [
        {
          "data": {"values": [{"g": -100}, {"g": -50}, {"g": 0}, {"g": 50}, {"g": 100}, {"g": 150}, {"g": 200}, {"g": 250}, {"g": 300}]},
          "mark": {"type": "rule", "color": "#d9d9d9", "strokeWidth": 1.5},
          "encoding": {
            "y": {"field": "g", "type": "quantitative"},
            "x": {"datum": {"year": 1997, "month": 1, "date": 1}, "type": "temporal"},
            "x2": {"datum": {"year": 2023, "month": 1, "date": 1}}
          }
        },
        {
          "mark": {"type": "rect", "color": "white"},
          "encoding": {
            "x": {"datum": {"year": 1998, "month": 10, "date": 29}, "type": "temporal"},
            "x2": {"datum": {"year": 2020, "month": 10, "date": 6}},
            "y": {"datum": 272.5, "type": "quantitative"},
            "y2": {"datum": 302}
          }
        },
        {
          "mark": {"type": "rule", "color": "#c4c4c4", "strokeWidth": 1.5},
          "encoding": {
            "y": {"datum": -60, "type": "quantitative"},
            "x": {"datum": {"year": 1997, "month": 1, "date": 1}, "type": "temporal"},
            "x2": {"datum": {"year": 2023, "month": 1, "date": 1}}
          }
        },
        {
          "data": {"name": "perf"},
          "transform": [
            {"fold": ["A04"], "as": ["s", "v"]},
            {"filter": "isValid(datum.v)"}
          ],
          "mark": {"type": "point", "filled": false, "size": 90, "strokeWidth": 2.1, "opacity": 1},
          "encoding": {
            "x": {
              "field": "t",
              "type": "temporal",
              "scale": {"domain": [{"year": 1995, "month": 10, "date": 22}, {"year": 2023, "month": 1, "date": 1}], "nice": false},
              "axis": {
                "title": null,
                "format": "%d/%m/%Y",
                "values": [
                  {"year": 1997, "month": 1, "date": 1}, {"year": 1999, "month": 1, "date": 1},
                  {"year": 2001, "month": 1, "date": 1}, {"year": 2003, "month": 1, "date": 1},
                  {"year": 2005, "month": 1, "date": 1}, {"year": 2007, "month": 1, "date": 1},
                  {"year": 2009, "month": 1, "date": 1}, {"year": 2011, "month": 1, "date": 1},
                  {"year": 2013, "month": 1, "date": 1}, {"year": 2015, "month": 1, "date": 1},
                  {"year": 2017, "month": 1, "date": 1}, {"year": 2019, "month": 1, "date": 1},
                  {"year": 2021, "month": 1, "date": 1}
                ],
                "domain": false,
                "ticks": false,
                "labelPadding": 17,
                "labelFontSize": 16,
                "labelColor": "#595959",
                "labelOverlap": false,
                "labelFlush": false,
                "gridColor": "#d9d9d9",
                "gridWidth": 1.5
              }
            },
            "y": {
              "field": "v",
              "type": "quantitative",
              "scale": {"domain": [-100, 300], "nice": false, "zero": false},
              "axis": {
                "title": null,
                "values": [-100, -50, 0, 50, 100, 150, 200, 250, 300],
                "labelExpr": "datum.value < 0 ? '- ' + (-datum.value) + '%' : datum.value + '%'",
                "grid": false,
                "domain": false,
                "ticks": false,
                "offset": -72,
                "labelPadding": 16,
                "labelFontSize": 15,
                "labelColor": "#595959"
              }
            },
            "color": {
              "field": "s",
              "type": "nominal",
              "scale": {"domain": ["A04", "A07", "A10", "0,0%"], "range": ["#ffc000", "#0070c0", "#ff0000", "#000000"]},
              "legend": {
                "orient": "none",
                "legendX": 1382,
                "legendY": 149,
                "title": null,
                "fillColor": "white",
                "padding": 14,
                "labelFontSize": 21,
                "labelColor": "#595959",
                "labelLimit": 0,
                "symbolSize": 30,
                "symbolStrokeWidth": 1.5,
                "symbolOffset": 25.5,
                "labelOffset": 11.5,
                "rowPadding": 28.5,
                "symbolOpacity": 1,
                "labelExpr": "datum.label == '0,0%' ? '0,0%' : 'Rendement_' + datum.label"
              }
            },
            "shape": {
              "field": "s",
              "type": "nominal",
              "scale": {
                "domain": ["A04", "A07", "A10", "0,0%"],
                "range": ["M-1,0H1M0,-1V1", "M-1,0H1M0,-1V1", "M-1,0H1M0,-1V1", "M-6.8,-0.6H6.8M-6.8,-0.3H6.8M-6.8,0H6.8M-6.8,0.3H6.8M-6.8,0.6H6.8"]
              },
              "legend": {
                "orient": "none",
                "legendX": 1382,
                "legendY": 149,
                "title": null,
                "fillColor": "white",
                "padding": 14,
                "labelFontSize": 21,
                "labelColor": "#595959",
                "labelLimit": 0,
                "symbolSize": 30,
                "symbolStrokeWidth": 1.5,
                "symbolOffset": 25.5,
                "labelOffset": 11.5,
                "rowPadding": 28.5,
                "symbolOpacity": 1,
                "labelExpr": "datum.label == '0,0%' ? '0,0%' : 'Rendement_' + datum.label"
              }
            }
          }
        },
        {
          "data": {"name": "perf"},
          "transform": [
            {"fold": ["A07"], "as": ["s", "v"]},
            {"filter": "isValid(datum.v)"}
          ],
          "mark": {"type": "point", "filled": false, "size": 90, "strokeWidth": 2.1, "opacity": 1},
          "encoding": {
            "x": {"field": "t", "type": "temporal"},
            "y": {"field": "v", "type": "quantitative"},
            "color": {"field": "s", "type": "nominal"},
            "shape": {"field": "s", "type": "nominal"}
          }
        },
        {
          "data": {"values": [{"s": "0,0%", "t0": "2000-03-20", "t1": "2023-01-01", "v": 0}]},
          "mark": {"type": "rule", "strokeWidth": 4},
          "encoding": {
            "x": {"field": "t0", "type": "temporal"},
            "x2": {"field": "t1"},
            "y": {"field": "v", "type": "quantitative"},
            "color": {"field": "s", "type": "nominal"}
          }
        },
        {
          "data": {"name": "perf"},
          "transform": [
            {"fold": ["A10"], "as": ["s", "v"]},
            {"filter": "isValid(datum.v)"}
          ],
          "mark": {"type": "point", "filled": false, "size": 90, "strokeWidth": 2.1, "opacity": 1},
          "encoding": {
            "x": {"field": "t", "type": "temporal"},
            "y": {"field": "v", "type": "quantitative"},
            "color": {"field": "s", "type": "nominal"},
            "shape": {"field": "s", "type": "nominal"}
          }
        }
      ]
    }
  ]
}
